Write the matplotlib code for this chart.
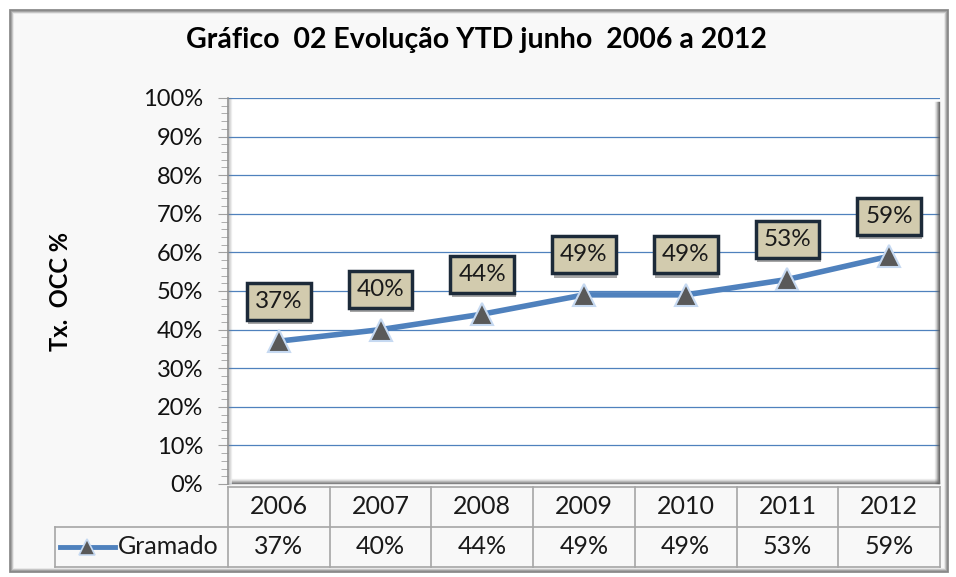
import matplotlib
matplotlib.use("Agg")
import matplotlib.pyplot as plt
import matplotlib.patheffects as pe
from matplotlib.lines import Line2D
from matplotlib.patches import Rectangle
from matplotlib.ticker import MultipleLocator, FuncFormatter

# ---- data ----
years = ["2006", "2007", "2008", "2009", "2010", "2011", "2012"]
gramado = [37, 40, 44, 49, 49, 53, 59]
series_name = "Gramado"
title = "Gráfico  02 Evolução YTD junho  2006 a 2012"
ylabel = "Tx.  OCC %"

W, H = 956, 577
plt.rcParams['font.family'] = ['Lato', 'DejaVu Sans']
fig = plt.figure(figsize=(W / 100, H / 100), dpi=100)
fig.patch.set_facecolor("white")

def fx(x):
    return x / W

def fy(y):
    return 1 - y / H

# outer chart frame with soft gray border
fig.add_artist(Rectangle((fx(10), fy(572)), fx(948) - fx(10), fy(10) - fy(572),
                         transform=fig.transFigure, fc="#f8f8f8", ec="none", zorder=0))
for i, a in enumerate([0.9, 0.6, 0.35, 0.15]):
    off = i
    fig.add_artist(Rectangle((fx(10 + off), fy(572 - off)), fx(948 - off) - fx(10 + off),
                             fy(10 + off) - fy(572 - off), transform=fig.transFigure,
                             fc="none", ec=(0.5, 0.5, 0.5, a), lw=1.3, zorder=1))

# axes (plot area)
L, R, T, B = 228, 940, 98, 484
ax = fig.add_axes([fx(L), fy(B), fx(R) - fx(L), fy(T) - fy(B)])
ax.set_facecolor("white")
x = list(range(len(years)))
vals = [v / 100 for v in gramado]

ax.set_xlim(-0.5, len(years) - 0.5)
ax.set_ylim(0, 1)
ax.yaxis.set_major_locator(MultipleLocator(0.1))
ax.yaxis.set_minor_locator(MultipleLocator(0.02))
ax.yaxis.set_major_formatter(FuncFormatter(lambda v, p: f"{v*100:.0f}%"))
ax.tick_params(axis="y", which="major", length=7, color="#a0a0a0", labelsize=17,
               labelcolor="#111111", pad=11)
ax.tick_params(axis="y", which="minor", length=5, color="#a0a0a0")
ax.set_xticks([])
ax.grid(axis="y", which="major", color="#4f81bd", lw=0.9, zorder=1)
for s in ["top", "right", "bottom"]:
    ax.spines[s].set_visible(False)
ax.spines["left"].set_color("#909090")
ax.spines["left"].set_linewidth(1.2)

# plot-area shadow (right and bottom bevel)
for i, a in enumerate([0.85, 0.6, 0.4, 0.2, 0.1]):
    fig.add_artist(Line2D([fx(R - 1 - i), fx(R - 1 - i)], [fy(T + 4), fy(B - 1)],
                          transform=fig.transFigure, color=(0.35, 0.35, 0.35, a), lw=1))
    fig.add_artist(Line2D([fx(L + 4), fx(R - 1)], [fy(B - 1 - i), fy(B - 1 - i)],
                          transform=fig.transFigure, color=(0.45, 0.45, 0.45, a), lw=1))
for i, a in enumerate([0.35, 0.2, 0.1]):
    fig.add_artist(Line2D([fx(L + 1 + i), fx(L + 1 + i)], [fy(T), fy(B)],
                          transform=fig.transFigure, color=(0.5, 0.5, 0.5, a), lw=1))

ax.plot(x, vals, color="#4f81bd", lw=4, marker="^", markersize=16,
        mfc="#595959", mec="#c6d9f1", mew=1.5, zorder=4)

for xi, v, raw in zip(x, vals, gramado):
    ann = ax.annotate(f"{raw}%", (xi, v), xytext=(0, 40), textcoords="offset pixels",
                      ha="center", va="center", fontsize=17.5, color="#1a1a1a", zorder=6,
                      bbox=dict(boxstyle="square,pad=0.33", fc="#d2cbae", ec="#1c2a39", lw=2.5))
    ann.get_bbox_patch().set_path_effects([
        pe.SimplePatchShadow(offset=(1, -3), shadow_rgbFace="#000000", alpha=0.35),
        pe.Normal()])

# title and y label
fig.text(fx(476), fy(40), title, ha="center", va="center", fontsize=20.5, fontweight="bold")
fig.text(fx(61), fy(292), ylabel, ha="center", va="center", fontsize=17,
         fontweight="bold", rotation=90)

# data table
col_w = (R - L) / len(years)
row1_top, row_mid, row2_bot = 487, 527, 567
grid_c = "#a6a6a6"
lines = [
    ([L, L], [row1_top, row2_bot]),
    ([55, 55], [row_mid, row2_bot]),
    ([L, R], [row1_top, row1_top]),
    ([55, R], [row_mid, row_mid]),
    ([55, R], [row2_bot, row2_bot]),
]
for i in range(1, len(years) + 1):
    xx = L + i * col_w
    lines.append(([xx, xx], [row1_top, row2_bot]))
for xs, ys in lines:
    fig.add_artist(Line2D([fx(v) for v in xs], [fy(v) for v in ys],
                          transform=fig.transFigure, color=grid_c, lw=1.2))

for i, (yr, v) in enumerate(zip(years, gramado)):
    cx = L + (i + 0.5) * col_w
    fig.text(fx(cx), fy((row1_top + row_mid) / 2), yr, ha="center", va="center",
             fontsize=18, color="#1a1a1a")
    fig.text(fx(cx), fy((row_mid + row2_bot) / 2), f"{v}%", ha="center", va="center",
             fontsize=18, color="#1a1a1a")

ly = (row_mid + row2_bot) / 2
fig.add_artist(Line2D([fx(60), fx(115)], [fy(ly), fy(ly)], transform=fig.transFigure,
                      color="#4f81bd", lw=3.5))
fig.add_artist(Line2D([fx(87)], [fy(ly)], transform=fig.transFigure, marker="^",
                      markersize=12, mfc="#595959", mec="#c6d9f1", mew=1.2, lw=0))
fig.text(fx(118), fy(ly), series_name, ha="left", va="center", fontsize=18, color="#1a1a1a")

fig.savefig("out.png", dpi=100)
